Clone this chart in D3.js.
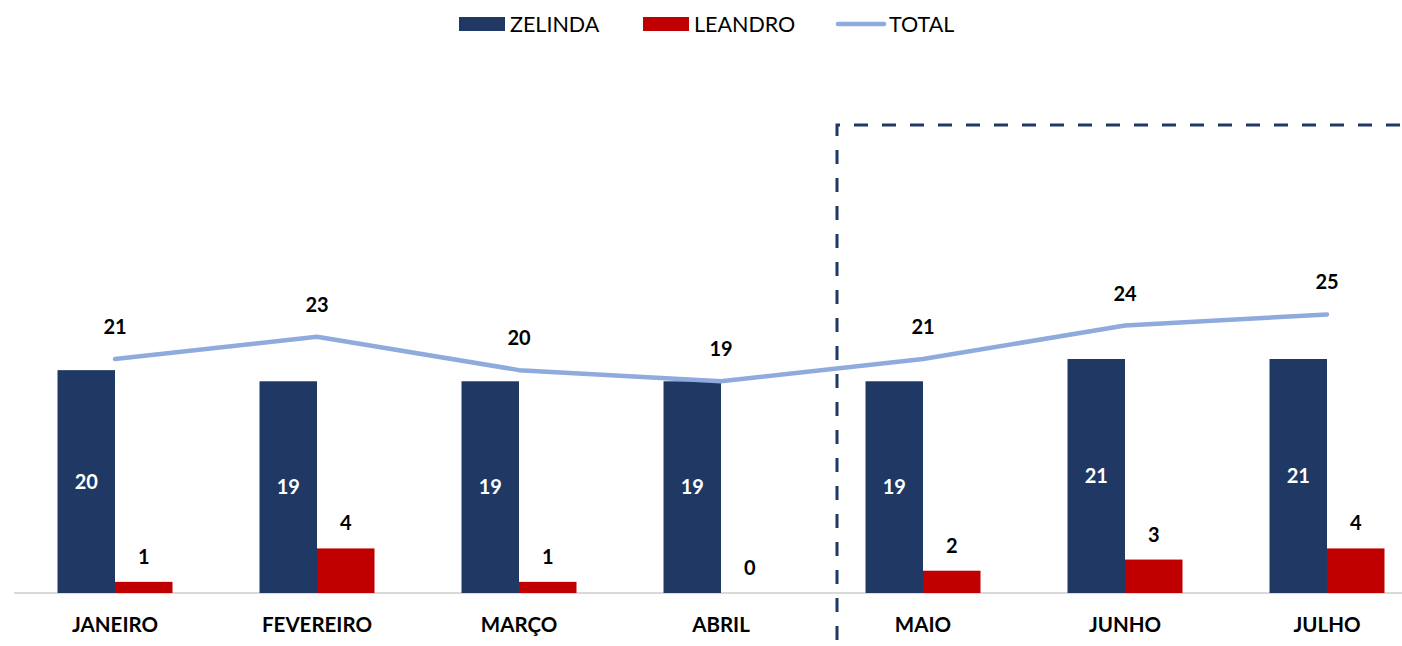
<!DOCTYPE html>
<html>
<head>
<meta charset="utf-8">
<script src="https://cdn.jsdelivr.net/npm/d3@7"></script>
<style>
  body { margin: 0; background: #fff; }
  text { font-family: Lato, "Open Sans", sans-serif; }
</style>
</head>
<body>
<div id="chart"></div>
<script>
var months = ["JANEIRO", "FEVEREIRO", "MARÇO", "ABRIL", "MAIO", "JUNHO", "JULHO"];
var zelinda = [20, 19, 19, 19, 19, 21, 21];
var leandro = [1, 4, 1, 0, 2, 3, 4];
var total = [21, 23, 20, 19, 21, 24, 25];
var seriesNames = ["ZELINDA", "LEANDRO", "TOTAL"];
var seriesColors = ["#203864", "#c00000", "#8faadc"];

var width = 1402, height = 646;
var baseY = 593;

var svg = d3.select("#chart")
    .append("svg")
    .attr("width", width)
    .attr("height", height);

// scales
var x = d3.scaleBand()
    .domain(months)
    .range([14, 1428])
    .padding(0);

var y = d3.scaleLinear()
    .domain([0, 42])
    .range([baseY, 125]);

var barW = 57.5;

// axis line
svg.append("line")
    .attr("x1", 14)
    .attr("x2", width)
    .attr("y1", baseY)
    .attr("y2", baseY)
    .attr("stroke", "#d9d9d9")
    .attr("stroke-width", 2);

// zelinda bars
svg.selectAll(".barZ")
    .data(zelinda)
    .enter()
    .append("rect")
    .attr("x", function (d, i) { return x(months[i]) + x.bandwidth() / 2 - barW; })
    .attr("y", function (d) { return y(d); })
    .attr("width", barW)
    .attr("height", function (d) { return baseY - y(d); })
    .attr("fill", seriesColors[0]);

// leandro bars
svg.selectAll(".barL")
    .data(leandro)
    .enter()
    .append("rect")
    .attr("x", function (d, i) { return x(months[i]) + x.bandwidth() / 2; })
    .attr("y", function (d) { return y(d); })
    .attr("width", barW)
    .attr("height", function (d) { return baseY - y(d); })
    .attr("fill", seriesColors[1]);

// total line
var line = d3.line()
    .x(function (d, i) { return x(months[i]) + x.bandwidth() / 2; })
    .y(function (d) { return y(d); });

svg.append("path")
    .datum(total)
    .attr("d", line)
    .attr("fill", "none")
    .attr("stroke", seriesColors[2])
    .attr("stroke-width", 4.5)
    .attr("stroke-linecap", "round")
    .attr("stroke-linejoin", "round");

// dashed highlight box
svg.append("path")
    .attr("d", "M837,640 L837,125 L1402,125")
    .attr("fill", "none")
    .attr("stroke", "#203864")
    .attr("stroke-width", 3)
    .attr("stroke-dasharray", "14,14");

// labels
svg.selectAll(".lblZ")
    .data(zelinda)
    .enter()
    .append("text")
    .attr("x", function (d, i) { return x(months[i]) + x.bandwidth() / 2 - barW / 2; })
    .attr("y", function (d) { return (y(d) + baseY) / 2; })
    .attr("dy", "0.35em")
    .attr("text-anchor", "middle")
    .style("font-size", "20px")
    .style("font-weight", "bold")
    .style("fill", "#fff")
    .text(function (d) { return d; });

svg.selectAll(".lblL")
    .data(leandro)
    .enter()
    .append("text")
    .attr("x", function (d, i) { return x(months[i]) + x.bandwidth() / 2 + barW / 2; })
    .attr("y", function (d) { return y(d) - 25; })
    .attr("dy", "0.35em")
    .attr("text-anchor", "middle")
    .style("font-size", "20px")
    .style("font-weight", "bold")
    .style("fill", "#000")
    .text(function (d) { return d; });

svg.selectAll(".lblT")
    .data(total)
    .enter()
    .append("text")
    .attr("x", function (d, i) { return x(months[i]) + x.bandwidth() / 2; })
    .attr("y", function (d) { return y(d) - 32; })
    .attr("dy", "0.35em")
    .attr("text-anchor", "middle")
    .style("font-size", "20px")
    .style("font-weight", "bold")
    .style("fill", "#000")
    .text(function (d) { return d; });

// category labels
svg.selectAll(".cat")
    .data(months)
    .enter()
    .append("text")
    .attr("x", function (d) { return x(d) + x.bandwidth() / 2; })
    .attr("y", 625)
    .attr("dy", "0.35em")
    .attr("text-anchor", "middle")
    .style("font-size", "20.5px")
    .style("font-weight", "bold")
    .style("fill", "#000")
    .text(function (d) { return d; });

// legend
var legendX = [459, 643, 836];
var legend = svg.selectAll(".legend")
    .data(seriesNames)
    .enter()
    .append("g")
    .attr("transform", function (d, i) { return "translate(" + legendX[i] + ",24)"; });

legend.each(function (d, i) {
    var g = d3.select(this);
    if (i < 2) {
        g.append("rect")
            .attr("x", 0).attr("y", -7)
            .attr("width", 46).attr("height", 14)
            .attr("fill", seriesColors[i]);
    } else {
        g.append("line")
            .attr("x1", 2).attr("x2", 48)
            .attr("y1", 0).attr("y2", 0)
            .attr("stroke", seriesColors[i])
            .attr("stroke-width", 4.5)
            .attr("stroke-linecap", "round");
    }
    g.append("text")
        .attr("x", i < 2 ? 51 : 53)
        .attr("y", 0)
        .attr("dy", "0.35em")
        .style("font-size", "21.5px")
        .style("fill", "#000")
        .text(d);
});
</script>
</body>
</html>
